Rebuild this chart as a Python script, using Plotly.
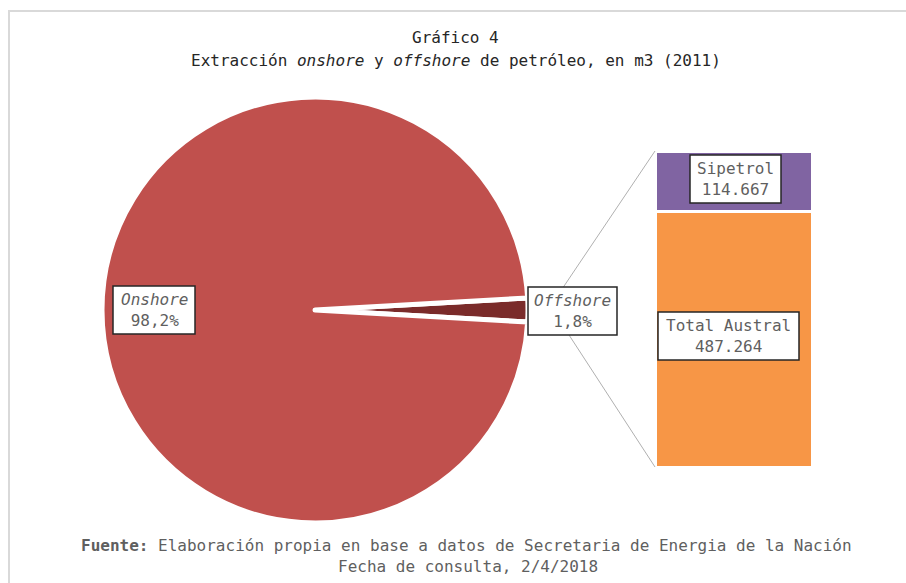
import plotly.graph_objects as go

# datos
pie_labels = ["Offshore", "Onshore"]
pie_pct = [1.8, 98.2]
pie_pct_text = ["1,8%", "98,2%"]

bar_labels = ["Total Austral", "Sipetrol"]
bar_values = [487264, 114667]
bar_text = ["487.264", "114.667"]

W, H = 906, 583
FONT = "DejaVu Sans Mono"
FS = 16
GRAY_TXT = "#5F5F5F"


def px(x):
    return x / W


def py(y):
    return 1 - y / H


fig = go.Figure()

# torta: la porcion offshore centrada a las 3 en punto
fig.add_trace(go.Pie(
    labels=pie_labels,
    values=pie_pct,
    sort=False,
    direction="clockwise",
    rotation=90 - pie_pct[0] * 360 / 100 / 2,
    marker=dict(colors=["#7A2B2A", "#C0504D"], line=dict(color="white", width=5)),
    textinfo="none",
    hoverinfo="label+percent",
    domain=dict(x=[px(102), px(528)], y=[py(523), py(97)]),
    showlegend=False,
))

# barra apilada del desglose offshore
bar_colors = ["#F79646", "#8064A2"]
for name, val, col in zip(bar_labels, bar_values, bar_colors):
    fig.add_trace(go.Bar(
        x=[0], y=[val], name=name, width=1,
        marker=dict(color=col, line=dict(color="white", width=3)),
        showlegend=False,
    ))

fig.update_layout(
    width=W, height=H,
    margin=dict(l=0, r=0, t=0, b=0),
    paper_bgcolor="white", plot_bgcolor="white",
    barmode="stack",
    xaxis=dict(domain=[px(655), px(812)], range=[-0.5, 0.5], visible=False),
    yaxis=dict(domain=[py(467), py(151)], range=[0, sum(bar_values)], visible=False),
    font=dict(family=FONT, size=FS, color=GRAY_TXT),
)

shapes = []
# marco del grafico
shapes.append(dict(type="rect", xref="paper", yref="paper",
                   x0=px(9), x1=px(920), y0=py(600), y1=py(11),
                   line=dict(color="#D9D9D9", width=2)))
# lineas de conexion
shapes.append(dict(type="line", xref="paper", yref="paper",
                   x0=px(556), y0=py(298), x1=px(655), y1=py(151),
                   line=dict(color="#B0B0B0", width=1)))
shapes.append(dict(type="line", xref="paper", yref="paper",
                   x0=px(556), y0=py(315), x1=px(655), y1=py(467),
                   line=dict(color="#B0B0B0", width=1)))
# cajas de etiquetas
boxes = [(113, 195, 286, 334), (528, 617, 287, 335), (690, 781, 155, 203), (658, 799, 312, 360)]
for x0, x1, y0, y1 in boxes:
    shapes.append(dict(type="rect", xref="paper", yref="paper",
                       x0=px(x0), x1=px(x1), y0=py(y1), y1=py(y0),
                       fillcolor="white", line=dict(color="#262626", width=1.5),
                       layer="above"))
fig.update_layout(shapes=shapes)

labels = [
    ("<i>Onshore</i><br>" + pie_pct_text[1], 154, 310),
    ("<i>Offshore</i><br>" + pie_pct_text[0], 572.5, 311),
    (bar_labels[1] + "<br>" + bar_text[1], 735.5, 179),
    (bar_labels[0] + "<br>" + bar_text[0], 728.5, 336),
]
annotations = []
for txt, x, y in labels:
    annotations.append(dict(text=txt, x=px(x), y=py(y), xref="paper", yref="paper",
                            showarrow=False, xanchor="center", yanchor="middle",
                            font=dict(family=FONT, size=FS, color=GRAY_TXT)))

annotations += [
    dict(text="Gráfico 4", x=px(455), y=py(37)),
    dict(text="Extracción <i>onshore</i> y <i>offshore</i> de petróleo, en m3 (2011)", x=px(456), y=py(60)),
]
for a in annotations[-2:]:
    a.update(xref="paper", yref="paper", showarrow=False, xanchor="center", yanchor="middle",
             font=dict(family=FONT, size=FS, color="#262626"))

annotations += [
    dict(text="<b>Fuente:</b> Elaboración propia en base a datos de Secretaria de Energia de la Nación",
         x=px(467), y=py(545)),
    dict(text="Fecha de consulta, 2/4/2018", x=px(468), y=py(566)),
]
for a in annotations[-2:]:
    a.update(xref="paper", yref="paper", showarrow=False, xanchor="center", yanchor="middle",
             font=dict(family=FONT, size=FS, color=GRAY_TXT))

fig.update_layout(annotations=annotations)

# quitar el margen por defecto del body para que la figura ocupe la ventana
fig.write_html("out.html", config={"displayModeBar": False},
               post_script="document.body.style.margin='0';document.body.style.overflow='hidden';")
